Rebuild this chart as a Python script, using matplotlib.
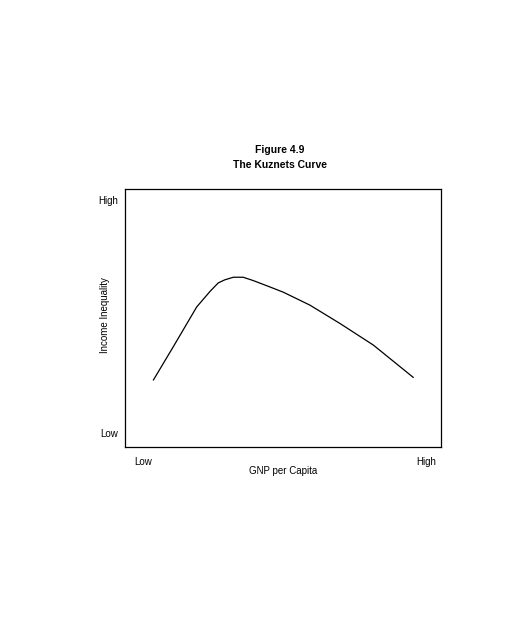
import matplotlib
matplotlib.use("Agg")
import matplotlib.pyplot as plt

# curve (axes run 0..100 both ways)
gnp = [9.0, 15.3, 22.7, 26.9, 29.5, 31.6, 34.3, 37.4, 40.6, 45.3, 50.1,
       58.5, 68.0, 78.6, 91.2]
inequality = [26.0, 38.9, 54.3, 60.3, 63.6, 64.8, 65.8, 65.8, 64.5, 62.3, 60.0,
              55.0, 47.9, 39.5, 27.0]

x_ticks = [5.7, 95.3]
y_ticks = [5.4, 95.7]
tick_labels = ["Low", "High"]

plt.rcParams["font.family"] = ["Liberation Sans", "DejaVu Sans"]

fig = plt.figure(figsize=(5.14, 6.25), dpi=100)
ax = fig.add_axes([125 / 514, 1 - 447 / 625, 316 / 514, 258 / 625])

ax.plot(gnp, inequality, color="black", linewidth=0.9)
ax.set_xlim(0, 100)
ax.set_ylim(0, 100)

ax.set_xticks(x_ticks)
ax.set_xticklabels(tick_labels)
ax.set_yticks(y_ticks)
ax.set_yticklabels(tick_labels)
ax.tick_params(length=0, labelsize=7)
ax.tick_params(axis="x", pad=7)
ax.tick_params(axis="y", pad=5)
for s in ax.spines.values():
    s.set_linewidth(0.9)

ax.set_xlabel("GNP per Capita", fontsize=7)
ax.set_ylabel("Income Inequality", fontsize=7)
ax.xaxis.set_label_coords(0.5, -0.075)
ax.yaxis.set_label_coords(-0.047, 0.51)

fig.text(280 / 514, 1 - 150 / 625, "Figure 4.9", ha="center", va="center",
         fontsize=7.5, fontweight="bold")
fig.text(280 / 514, 1 - 165 / 625, "The Kuznets Curve", ha="center", va="center",
         fontsize=7.5, fontweight="bold")

fig.savefig("out.png", dpi=100)
